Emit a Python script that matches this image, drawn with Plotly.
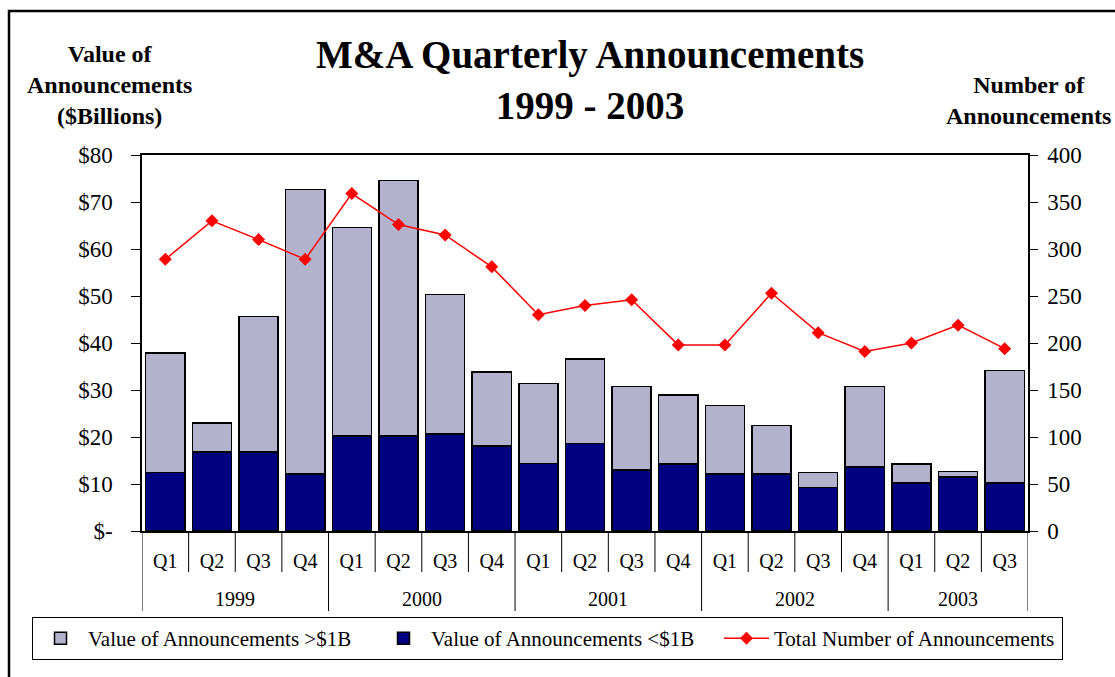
import plotly.graph_objects as go

years = ["1999", "2000", "2001", "2002", "2003"]
quarters = ["Q1", "Q2", "Q3", "Q4", "Q1", "Q2", "Q3", "Q4", "Q1", "Q2", "Q3", "Q4",
            "Q1", "Q2", "Q3", "Q4", "Q1", "Q2", "Q3"]
quarter_years = ["1999"] * 4 + ["2000"] * 4 + ["2001"] * 4 + ["2002"] * 4 + ["2003"] * 3
value_under_1b = [12.4, 16.8, 16.8, 12.1, 20.2, 20.2, 20.6, 18.1, 14.4, 18.6, 13.0, 14.3,
                  12.1, 12.1, 9.3, 13.6, 10.2, 11.5, 10.2]
value_over_1b = [25.5, 6.2, 28.8, 60.6, 44.4, 54.4, 29.7, 15.7, 17.0, 18.0, 17.7, 14.6,
                 14.6, 10.3, 3.1, 17.1, 4.1, 1.2, 24.0]
total_number = [289, 330, 310, 289, 359, 326, 315, 281, 230, 240, 246, 198,
                198, 253, 211, 191, 200, 219, 194]
left_tick_vals = [0, 10, 20, 30, 40, 50, 60, 70, 80]
left_tick_text = ["$-", "$10", "$20", "$30", "$40", "$50", "$60", "$70", "$80"]
right_tick_vals = [0, 50, 100, 150, 200, 250, 300, 350, 400]

FONT = "Liberation Serif, Times New Roman, serif"
cats = [f"{y}-{q}" for y, q in zip(quarter_years, quarters)]

# plot area in pixels (for converting layout positions)
W, H = 1115, 677
L, R, T, B = 142, 1028, 155, 531
def px(x):
    return (x - L) / (R - L)
def py(y):
    return (B - y) / (B - T)

fig = go.Figure()
fig.add_trace(go.Bar(
    x=cats, y=value_under_1b, name="Value of Announcements <$1B",
    marker=dict(color="#000080", line=dict(color="black", width=1.5)),
    legendrank=2,
))
fig.add_trace(go.Bar(
    x=cats, y=value_over_1b, name="Value of Announcements >$1B",
    marker=dict(color="#B2B2CC", line=dict(color="black", width=1.5)),
    legendrank=1,
))
fig.add_trace(go.Scatter(
    x=cats, y=total_number, name="Total Number of Announcements", yaxis="y2",
    mode="lines+markers",
    line=dict(color="#FF0000", width=1.5),
    marker=dict(symbol="diamond", size=10, color="#FF0000"),
    legendrank=3,
))

shapes = []
# category boundary separators below the axis
year_bounds = []
idx = 0
for yr in years:
    n = quarter_years.count(yr)
    year_bounds.append((idx, idx + n - 1))
    idx += n
long_pos = set([-0.5] + [e + 0.5 for s, e in year_bounds])
for i in range(-1, len(cats)):
    xpos = i + 0.5
    y1 = -(611 - B) / (B - T) if xpos in long_pos else -(572 - B) / (B - T)
    shapes.append(dict(type="line", xref="x", yref="paper", x0=xpos, x1=xpos,
                       y0=0, y1=y1, line=dict(color="black", width=1)))
# outer frame
shapes.append(dict(type="rect", xref="paper", yref="paper",
                   x0=px(9), x1=px(1140), y0=py(11), y1=py(700),
                   line=dict(color="black", width=2.5), layer="below"))

annotations = []
for yr, (s, e) in zip(years, year_bounds):
    annotations.append(dict(x=(s + e) / 2, xref="x", y=py(599), yref="paper",
                            text=yr, showarrow=False, yanchor="middle",
                            font=dict(family=FONT, size=20, color="black")))
annotations.append(dict(x=px(590), y=py(80.5), xref="paper", yref="paper",
                        text="<b>M&A Quarterly Announcements<br>1999 - 2003</b>",
                        showarrow=False, xanchor="center", yanchor="middle",
                        font=dict(family=FONT, size=39, color="black")))
annotations.append(dict(x=px(109), y=py(85), xref="paper", yref="paper",
                        text="<b>Value of<br>Announcements<br>($Billions)</b>",
                        showarrow=False, xanchor="center", yanchor="middle",
                        font=dict(family=FONT, size=24, color="black")))
annotations.append(dict(x=px(1028), y=py(100.7), xref="paper", yref="paper",
                        text="<b>Number of<br>Announcements</b>",
                        showarrow=False, xanchor="center", yanchor="middle",
                        font=dict(family=FONT, size=24, color="black")))

fig.update_layout(
    width=W, height=H, autosize=False,
    margin=dict(l=L, r=W - R, t=T, b=H - B, autoexpand=False),
    paper_bgcolor="white", plot_bgcolor="white",
    barmode="stack", bargap=0.16,
    font=dict(family=FONT, color="black"),
    showlegend=True,
    legend=dict(orientation="h", x=px(32), xanchor="left", y=py(617), yanchor="top",
                traceorder="normal", itemwidth=45,
                bordercolor="black", borderwidth=1, bgcolor="white",
                font=dict(family=FONT, size=21, color="black"),
                entrywidth=283, entrywidthmode="pixels"),
    xaxis=dict(type="category", categoryorder="array", categoryarray=cats,
               tickvals=cats, ticktext=quarters, range=[-0.5, len(cats) - 0.5],
               ticks="", showline=True, linecolor="black", linewidth=1.5, mirror=True,
               showgrid=False, zeroline=False, ticklabelstandoff=11,
               tickfont=dict(family=FONT, size=20, color="black")),
    yaxis=dict(range=[0, 80], tickvals=left_tick_vals, ticktext=left_tick_text,
               ticks="outside", ticklen=9, tickcolor="black", tickwidth=1,
               showline=True, linecolor="black", linewidth=1.5,
               showgrid=False, zeroline=False, ticklabelstandoff=14,
               tickfont=dict(family=FONT, size=23, color="black")),
    yaxis2=dict(range=[0, 400], tickvals=right_tick_vals, overlaying="y", side="right",
                ticks="outside", ticklen=8, tickcolor="black", tickwidth=1,
                showline=True, linecolor="black", linewidth=1.5,
                showgrid=False, zeroline=False, ticklabelstandoff=5,
                tickfont=dict(family=FONT, size=23, color="black")),
    shapes=shapes,
    annotations=annotations,
)

fig.write_html("out.html", config={"displayModeBar": False},
               post_script="document.body.style.margin='0px';")
